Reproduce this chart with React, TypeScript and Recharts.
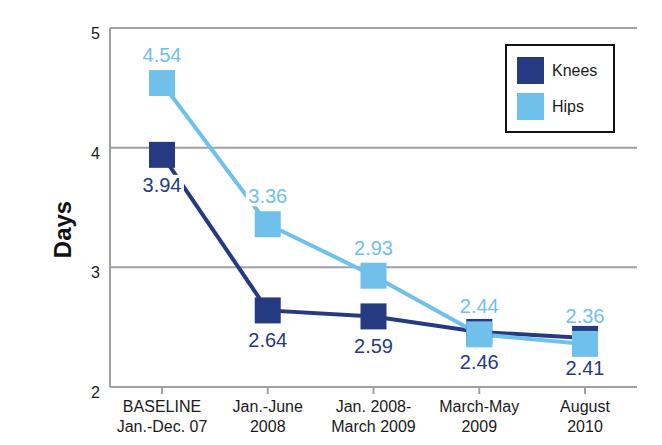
import { CartesianGrid, LabelList, Line, LineChart, XAxis, YAxis } from 'recharts';

const periods = ['BASELINE\nJan.-Dec. 07', 'Jan.-June\n2008', 'Jan. 2008-\nMarch 2009', 'March-May\n2009', 'August\n2010'];
const knees = [3.94, 2.64, 2.59, 2.46, 2.41];
const hips = [4.54, 3.36, 2.93, 2.44, 2.36];
const dayTicks = [2, 3, 4, 5];

const data = periods.map((period, i) => ({ period, knees: knees[i], hips: hips[i] }));

const KNEES = '#263a82';
const HIPS = '#6fc1ec';
const GRID = '#a0a0a0';
const FONT = '"Liberation Sans", Arial, Helvetica, sans-serif';

function SquareDot(color: string) {
  return (props: any) => {
    const { cx, cy, index } = props;
    if (cx == null || cy == null) return <g key={index} />;
    return <rect key={index} x={cx - 13} y={cy - 13} width={26} height={26} fill={color} />;
  };
}

function valueLabel(color: string, offset: number) {
  return (props: any) => {
    const { x, y, value, index } = props;
    const cy = y + offset;
    return (
      <g key={index}>
        <rect x={x - 22} y={cy - 10} width={44} height={20} fill="#fff" />
        <text x={x} y={cy + 7} textAnchor="middle" fontSize={20} fill={color} fontFamily={FONT}>
          {Number(value).toFixed(2)}
        </text>
      </g>
    );
  };
}

function PeriodTick(props: any) {
  const { x, y, payload } = props;
  const [a, b] = String(payload.value).split('\n');
  return (
    <text x={x} y={y} textAnchor="middle" fontSize={16} fill="#1a1a1a" fontFamily={FONT}>
      <tspan x={x} dy={16}>{a}</tspan>
      <tspan x={x} dy={20}>{b}</tspan>
    </text>
  );
}

function DayTick(props: any) {
  const { x, y, payload } = props;
  return (
    <text x={x} y={y} dy={11} textAnchor="end" fontSize={16} fill="#1a1a1a" fontFamily={FONT}>
      {payload.value}
    </text>
  );
}

function DaysLabel(props: any) {
  const { viewBox } = props;
  const cx = viewBox.x + 62;
  const cy = viewBox.y + viewBox.height / 2 + 22;
  return (
    <text
      x={cx}
      y={cy}
      transform={`rotate(-90 ${cx} ${cy})`}
      textAnchor="middle"
      dominantBaseline="central"
      fontSize={24}
      fontWeight={700}
      fill="#111"
      fontFamily={FONT}
    >
      Days
    </text>
  );
}

function LegendBox() {
  const items = [
    { name: 'Knees', color: KNEES },
    { name: 'Hips', color: HIPS },
  ];
  return (
    <div style={{ position: 'absolute', left: 505, top: 44, boxSizing: 'border-box', width: 110, height: 89, border: '2px solid #111', background: '#fff', padding: '11px 0 0 10px', fontFamily: FONT }}>
      {items.map(it => (
        <div key={it.name} style={{ display: 'flex', alignItems: 'center', height: 27, marginBottom: 9 }}>
          <div style={{ width: 27, height: 27, background: it.color }} />
          <span style={{ marginLeft: 8, fontSize: 16, color: '#1a1a1a' }}>{it.name}</span>
        </div>
      ))}
    </div>
  );
}

export default function App() {
  return (
    <div style={{ position: 'absolute', left: 0, top: 0, width: 662, height: 445, background: '#fff' }}>
      <LineChart width={662} height={445} data={data} margin={{ top: 28, right: 25, bottom: 0, left: 0 }}>
        <CartesianGrid horizontal vertical={false} stroke={GRID} strokeWidth={2} />
        <XAxis
          dataKey="period"
          height={58}
          padding={{ left: 52, right: 52 }}
          axisLine={{ stroke: GRID, strokeWidth: 2 }}
          tickLine={{ stroke: GRID, strokeWidth: 2 }}
          tickSize={7}
          tickMargin={2}
          tick={<PeriodTick />}
          interval={0}
        />
        <YAxis
          width={110}
          domain={[2, 5]}
          ticks={dayTicks}
          axisLine={{ stroke: GRID, strokeWidth: 2 }}
          tickLine={false}
          tickSize={8}
          tickMargin={2}
          tick={<DayTick />}
          label={<DaysLabel />}
        />
        <Line
          dataKey="knees"
          name="Knees"
          stroke={KNEES}
          strokeWidth={4}
          dot={SquareDot(KNEES)}
          activeDot={false}
          isAnimationActive={false}
        >
          <LabelList dataKey="knees" content={valueLabel(KNEES, 30)} />
        </Line>
        <Line
          dataKey="hips"
          name="Hips"
          stroke={HIPS}
          strokeWidth={4}
          dot={SquareDot(HIPS)}
          activeDot={false}
          isAnimationActive={false}
        >
          <LabelList dataKey="hips" content={valueLabel(HIPS, -28)} />
        </Line>
      </LineChart>
      <LegendBox />
    </div>
  );
}
